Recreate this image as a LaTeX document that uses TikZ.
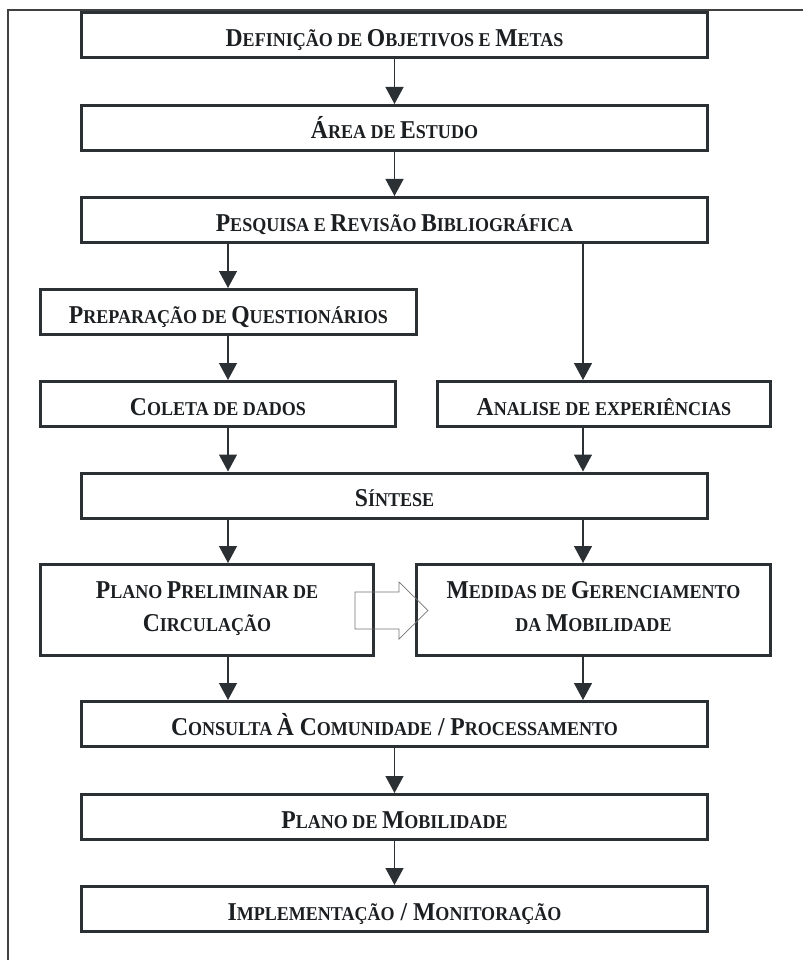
\documentclass[tikz,border=0pt]{standalone}
\usepackage{fontspec}
\setmainfont{Liberation Serif}[FakeStretch=0.92]
\usetikzlibrary{arrows.meta}
\definecolor{boxline}{HTML}{2B3034}
\definecolor{ink}{HTML}{1C1F22}
\newcommand{\smc}[1]{{\fontsize{19.6}{33}\selectfont #1}}

\begin{document}
\begin{tikzpicture}[x=1pt,y=-1pt,
  etapa/.style={draw=boxline, line width=3pt, text=ink, font=\bfseries\fontsize{25.7}{33}\selectfont, inner sep=0pt, minimum height=45pt, text height=24pt, text depth=2pt},
  larga/.style={etapa, minimum width=626pt},
  dupla/.style={etapa, align=center, minimum height=91pt, text height=50pt, text depth=8pt},
  seta/.style={draw=boxline, line width=1.3pt, -{Triangle[length=17pt,width=18pt]}},
  oca/.style={draw=black!55, line width=0.7pt},
  moldura/.style={draw=black!75, line width=1.2pt}]
  \useasboundingbox (0,0) rectangle (803,960);
  \draw[moldura] (8,960) -- (8,10) -- (803,10);
  % column axes
  \coordinate (esq) at (228,0);
  \coordinate (dir) at (583,0);
  \node[larga] (objetivos) at (394.5,35.5) {D\smc{EFINIÇÃO DE }O\smc{BJETIVOS E }M\smc{ETAS}};
  \node[larga] (area) at (394.5,128) {Á\smc{REA DE }E\smc{STUDO}};
  \node[larga] (pesquisa) at (394.5,220) {P\smc{ESQUISA E }R\smc{EVISÃO }B\smc{IBLIOGRÁFICA}};
  \node[etapa, minimum width=376pt] (questionarios) at (228.5,312) {P\smc{REPARAÇÃO DE }Q\smc{UESTIONÁRIOS}};
  \node[etapa, minimum width=355pt] (coleta) at (218,404) {C\smc{OLETA DE DADOS}};
  \node[etapa, minimum width=333pt] (analise) at (604,404) {A\smc{NALISE DE EXPERIÊNCIAS}};
  \node[larga] (sintese) at (394.5,495.5) {S\smc{ÍNTESE}};
  \node[dupla, minimum width=333pt] (plano) at (207,610) {P\smc{LANO }P\smc{RELIMINAR DE}\\C\smc{IRCULAÇÃO}};
  \node[dupla, minimum width=354pt] (medidas) at (593.5,610) {M\smc{EDIDAS DE }G\smc{ERENCIAMENTO}\\\smc{DA }M\smc{OBILIDADE}};
  \node[larga] (consulta) at (394.5,724) {C\smc{ONSULTA }À C\smc{OMUNIDADE} / P\smc{ROCESSAMENTO}};
  \node[larga] (mobilidade) at (394.5,817) {P\smc{LANO DE }M\smc{OBILIDADE}};
  \node[larga] (implementacao) at (394.5,909) {I\smc{MPLEMENTAÇÃO} / M\smc{ONITORAÇÃO}};
  % arrows
  \draw[seta] (objetivos.south) -- (area.north);
  \draw[seta] (area.south) -- (pesquisa.north);
  \draw[seta] (pesquisa.south -| esq) -- (questionarios.north -| esq);
  \draw[seta] (pesquisa.south -| dir) -- (analise.north -| dir);
  \draw[seta] (questionarios.south -| esq) -- (coleta.north -| esq);
  \draw[seta] (coleta.south -| esq) -- (sintese.north -| esq);
  \draw[seta] (analise.south -| dir) -- (sintese.north -| dir);
  \draw[seta] (sintese.south -| esq) -- (plano.north -| esq);
  \draw[seta] (sintese.south -| dir) -- (medidas.north -| dir);
  \draw[seta] (plano.south -| esq) -- (consulta.north -| esq);
  \draw[seta] (medidas.south -| dir) -- (consulta.north -| dir);
  \draw[seta] (consulta.south) -- (mobilidade.north);
  \draw[seta] (mobilidade.south) -- (implementacao.north);
  % hollow arrow
  \draw[oca] ([xshift=-20pt,yshift=18pt]plano.east) -- ++(44,0) -- ++(0,-10) -- ++(29,28.5) -- ++(-29,28.5) -- ++(0,-10) -- ++(-44,0) -- cycle;
\end{tikzpicture}
\end{document}
